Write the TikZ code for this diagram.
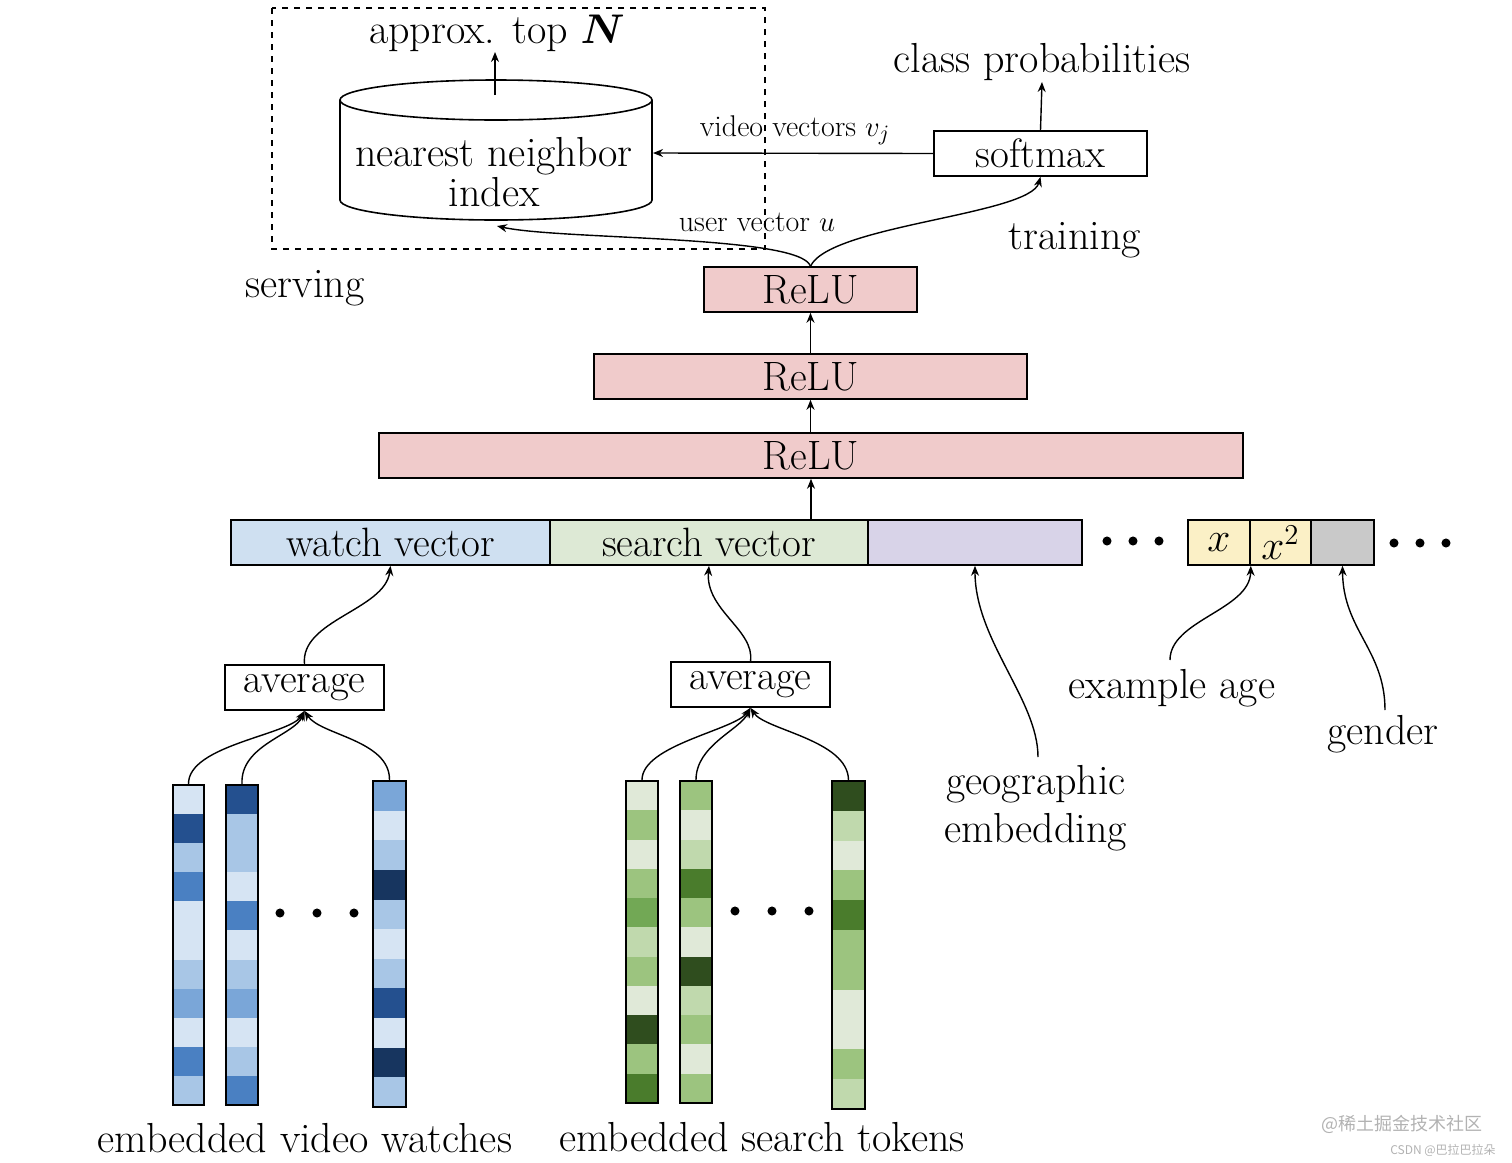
\documentclass[tikz,border=0pt]{standalone}
\usepackage{amsmath,amssymb}
\usepackage{fontspec}
\newfontfamily\cjk{Noto Sans CJK SC}
\usetikzlibrary{arrows.meta,fit}
\definecolor{b1}{HTML}{D6E4F3}\definecolor{b2}{HTML}{A8C6E6}\definecolor{b3}{HTML}{7AA6D8}
\definecolor{b4}{HTML}{4A80C2}\definecolor{b5}{HTML}{24508F}\definecolor{b6}{HTML}{17355F}
\definecolor{g1}{HTML}{E0E9D8}\definecolor{g2}{HTML}{C0D9AD}\definecolor{g3}{HTML}{9CC47F}
\definecolor{g4}{HTML}{72A855}\definecolor{g5}{HTML}{4A7C2C}\definecolor{g6}{HTML}{2F4D1E}
\definecolor{relu}{HTML}{F0CBCB}\definecolor{watch}{HTML}{CFE0F1}\definecolor{search}{HTML}{DDE9D5}
\definecolor{geo}{HTML}{D8D3E8}\definecolor{age}{HTML}{FBF0C6}\definecolor{gend}{HTML}{C9C9C9}
\newcommand\embcol[6]{%
 \foreach \c [count=\i from 0] in {#6} {
   \pgfmathsetmacro\ya{#4+(#5-#4)*\i/11}
   \pgfmathsetmacro\yb{#4+(#5-#4)*(\i+1)/11}
   \fill[\c] (#2,\ya) rectangle (#3,\yb);}
 \node[draw, line width=1pt, inner sep=0pt, fit={(#2,#4)(#3,#5)}] (#1) {};
}
\tikzset{
 box/.style={draw, line width=0.8pt, inner sep=0pt, minimum height=22.5pt, font=\fontsize{20.5}{22}\selectfont},
 lbl/.style={font=\fontsize{21}{24}\selectfont, align=center},
 slbl/.style={font=\fontsize{15}{17}\selectfont},
 arr/.style={-{Stealth[length=5pt,width=4pt]}, line width=0.7pt},
 dot/.style={circle, fill, inner sep=1.6pt},
}
\begin{document}
\begin{tikzpicture}[x=0.5pt,y=-0.5pt]
\useasboundingbox (0,0) rectangle (1512,1163);
% serving box
\draw[dashed, line width=0.8pt] (272,8) rectangle (765,249);
\node[lbl] (topn) at (497,33) {approx. top $\boldsymbol{N}$};
% cylinder
\draw[line width=0.8pt, fill=white] (340,100) -- (340,200) arc[start angle=180,end angle=360,x radius=78pt,y radius=10pt] -- (652,100);
\draw[line width=0.8pt] (496,100) ellipse[x radius=78pt, y radius=10pt];
\node[lbl, inner sep=0pt] (nn) at (494,172) {nearest neighbor\\[-4pt]index};
\coordinate (cyltop) at (495,95);
\coordinate (cylbot) at (497,226);
\coordinate (cylright) at (653,153);
\coordinate (topnb) at (495,52);
\draw[arr] (cyltop) -- (topnb);
% softmax
\node[box, minimum width=106.5pt] (soft) at (1040.5,153.5) {softmax};
\node[lbl] (cp) at (1042,62) {class probabilities};
\coordinate (cpb) at (1042,82);
\draw[arr] (soft.north) -- (cpb);
\draw[arr] (soft.west) -- (cylright);
\node[slbl] (vv) at (795,130) {video vectors $v_j$};
% ReLUs
\node[box, fill=relu, minimum width=106.5pt] (r1) at (810.5,289.5) {ReLU};
\node[box, fill=relu, minimum width=216.5pt] (r2) at (810.5,376.5) {ReLU};
\node[box, fill=relu, minimum width=432pt] (r3) at (811,455.5) {ReLU};
\draw[arr] (r2.north -| r1.south) -- (r1.south);
\draw[arr] (r3.north -| r2.south) -- (r2.south);
\node[slbl] (uv) at (757,222) {user vector $u$};
\draw[arr] (r1.north) .. controls (800,235) and (560,240) .. (cylbot);
\draw[arr] (r1.north) .. controls (830,225) and (1030,215) .. (soft.south);
\node[lbl] (tr) at (1075,240) {training};
\node[lbl] (sv) at (305,288) {serving};
% feature row
\node[box, fill=watch, minimum width=159.5pt] (wv) at (390.5,542.5) {watch vector};
\node[box, fill=search, minimum width=159pt] (sv2) at (709,542.5) {search vector};
\node[box, fill=geo, minimum width=107pt] (geo) at (975,542.5) {};
\draw[arr] (r3.south |- geo.north) -- (r3.south);
\node[dot] (d1) at (1107,541) {};\node[dot] (d2) at (1133,541) {};\node[dot] (d3) at (1159,541) {};
\node[box, fill=age, minimum width=31pt] (x1) at (1219,542.5) {$x$};
\node[box, fill=age, minimum width=30.5pt] (x2) at (1280.5,542.5) {$x^2$};
\node[box, fill=gend, minimum width=31.5pt] (gd) at (1342.5,542.5) {};
\node[dot] (d4) at (1394,543) {};\node[dot] (d5) at (1420,543) {};\node[dot] (d6) at (1446,543) {};
% averages
\node[box, minimum width=79.5pt] (a1) at (304.5,687.5) {average};
\node[box, minimum width=79.5pt] (a2) at (750.5,684.5) {average};
\draw[arr] (a1.north) .. controls (300,620) and (385,610) .. (wv.south);
\draw[arr] (a2.north) .. controls (755,630) and (705,610) .. (sv2.south);
% geo, age, gender
\node[lbl] (geol) at (1036,808) {geographic\\embedding};
\coordinate (geoend) at (1038,757);
\draw[arr] (geoend) .. controls (1038,700) and (975,640) .. (geo.south);
\node[lbl] (agel) at (1172,688) {example age};
\coordinate (ageend) at (1170,660);
\draw[arr] (ageend) .. controls (1170,620) and (1250,610) .. (x1.south east);
\node[lbl] (gl) at (1383,734) {gender};
\coordinate (gend) at (1385,710);
\draw[arr] (gend) .. controls (1385,650) and (1343,630) .. (gd.south);
% columns
\embcol{bc1}{173}{204}{785}{1105}{b1,b5,b2,b4,b1,b1,b2,b3,b1,b4,b2}
\embcol{bc2}{226}{258}{785}{1105}{b5,b2,b2,b1,b4,b1,b2,b3,b1,b2,b4}
\embcol{bc3}{373}{406}{781}{1107}{b3,b1,b2,b6,b2,b1,b2,b5,b1,b6,b2}
\embcol{gc1}{626}{658}{781}{1103}{g1,g3,g1,g3,g4,g2,g3,g1,g6,g3,g5}
\embcol{gc2}{680}{712}{781}{1103}{g3,g1,g2,g5,g3,g1,g6,g2,g3,g1,g3}
\embcol{gc3}{832}{865}{781}{1109}{g6,g2,g1,g3,g5,g3,g3,g1,g1,g3,g2}
\draw[arr] (bc1.north) .. controls (188,745) and (290,735) .. (a1.south);
\draw[arr] (bc2.north) .. controls (240,745) and (295,735) .. (a1.south);
\draw[arr] (bc3.north) .. controls (390,740) and (320,735) .. (a1.south);
\draw[arr] (gc1.north) .. controls (642,745) and (735,730) .. (a2.south);
\draw[arr] (gc2.north) .. controls (696,745) and (740,730) .. (a2.south);
\draw[arr] (gc3.north) .. controls (848,740) and (765,730) .. (a2.south);
\node[dot] (e1) at (280,913) {};\node[dot] (e2) at (317,913) {};\node[dot] (e3) at (354,913) {};
\node[dot] (f1) at (735,911) {};\node[dot] (f2) at (772,911) {};\node[dot] (f3) at (809,911) {};
\node[lbl] (evw) at (305,1138) {embedded video watches};
\node[lbl] (est) at (762,1137) {embedded search tokens};
% watermark
\node[text=gray!60, font=\cjk\fontsize{9}{10}\selectfont] (wm1) at (1402,1124) {@稀土掘金技术社区};
\node[text=gray!60, font=\cjk\fontsize{6}{7}\selectfont] (wm2) at (1443,1150) {CSDN @巴拉巴拉朵};
\end{tikzpicture}
\end{document}
